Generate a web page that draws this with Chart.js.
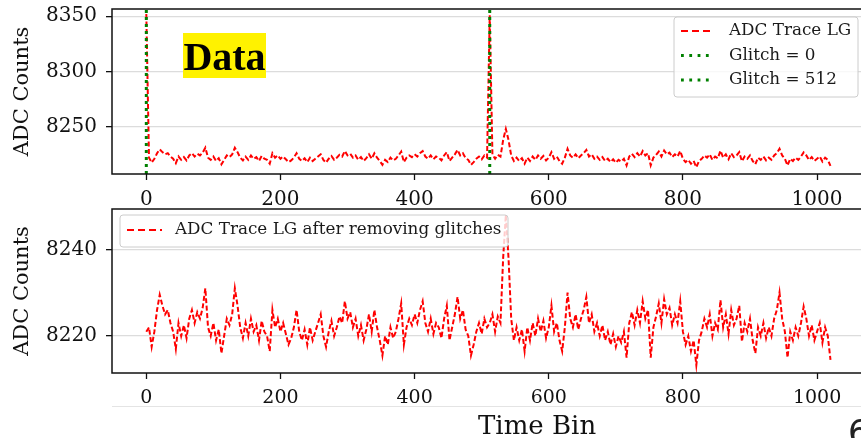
<!DOCTYPE html>
<html>
<head>
<meta charset="utf-8">
<script src="https://cdn.jsdelivr.net/npm/chart.js@4.4.1/dist/chart.umd.min.js"></script>
<style>
    html, body { margin: 0; padding: 0; background: #fff; }
    body { width: 861px; height: 438px; overflow: hidden; position: relative; font-family: "DejaVu Serif", serif; }
    .panel { position: absolute; left: 0; }
    #dataTag {
        position: absolute; left: 183px; top: 33px; width: 83px; height: 45px;
        background: #fff200; color: #000; font: bold 40px "Liberation Serif", serif;
        line-height: 47px; text-align: center;
    }
    #xTitle { position: absolute; left: 478px; top: 410px; font: 26px "DejaVu Serif", serif; color: #111; line-height: 30px; }
    #pageNo { position: absolute; left: 848px; top: 412px; font: 34px "DejaVu Sans", sans-serif; color: #222; }
    #slideLine { position: absolute; left: 112px; top: 406px; width: 760px; height: 1px; background: #e4e4e4; }
</style>
</head>
<body>
<div class="panel" style="top:0"><canvas id="rawTrace" width="880" height="214"></canvas></div>
<div class="panel" style="top:200px"><canvas id="cleanTrace" width="880" height="214"></canvas></div>
<div id="slideLine"></div>
<div id="dataTag">Data</div>
<div id="xTitle">Time Bin</div>
<div id="pageNo">6</div>

<script>
// ADC trace (low gain), one value every 4 time bins
const binStep = 4;
const adcClean = [
    8221, 8222, 8217.5, 8221, 8226, 8229.5, 8227, 8225, 8226, 8223, 8221, 8217, 8223, 8220, 8222.5, 8219.5,
    8224, 8226, 8223, 8225.5, 8224, 8226.5, 8231, 8222, 8220, 8223, 8219, 8221.5, 8216, 8220, 8224, 8222.5,
    8225, 8231, 8227, 8222, 8219.5, 8223, 8220, 8224, 8221, 8222.5, 8219, 8223.5, 8221, 8220, 8216.5, 8226,
    8222, 8224, 8221, 8223, 8220.5, 8218, 8219.5, 8222, 8226, 8221, 8219, 8221.5, 8218, 8222, 8219, 8221,
    8223, 8225, 8220, 8217.5, 8221, 8223.5, 8220, 8222, 8224.5, 8223, 8228, 8224, 8225.5, 8222, 8224, 8220,
    8222.5, 8219, 8221.5, 8225, 8221, 8226, 8222, 8219, 8215.5, 8220, 8218, 8222, 8219.5, 8221, 8224, 8227.5,
    8218, 8222, 8224, 8222.5, 8225, 8223, 8226, 8228, 8223, 8221, 8224, 8220.5, 8223, 8222, 8219.5, 8224,
    8227, 8219, 8222, 8225, 8229, 8224, 8226, 8221.5, 8220, 8215.5, 8218, 8221, 8223, 8220.5, 8224, 8222,
    8223, 8225, 8221, 8224.5, 8223, 8238, 8248, 8238, 8224, 8219, 8222, 8219, 8221.5, 8216.5, 8222, 8219,
    8223, 8220, 8224, 8221, 8223.5, 8219.5, 8222, 8227, 8221, 8223, 8219, 8216.5, 8222, 8230, 8224, 8222,
    8225, 8221.5, 8224, 8226, 8229, 8223, 8225, 8221, 8223, 8220, 8222.5, 8219, 8221, 8218, 8220.5, 8217.5,
    8220, 8218.5, 8221, 8215, 8223, 8225.5, 8222.5, 8226, 8223, 8228, 8224, 8226, 8215, 8222, 8224.5, 8227.5,
    8223, 8228.5, 8225, 8226.5, 8222.5, 8225, 8223, 8228, 8221, 8218, 8220, 8216.5, 8219, 8213.3, 8219, 8221,
    8224, 8222, 8225, 8220, 8223, 8221.5, 8228.3, 8222, 8225, 8220.5, 8226, 8222.5, 8224, 8227, 8218.7, 8223,
    8221, 8224, 8219, 8216, 8222, 8220, 8223, 8219.5, 8222, 8220, 8224, 8226, 8230, 8224, 8221, 8215,
    8221, 8219, 8222, 8220, 8223, 8226.8, 8224, 8220, 8222.5, 8219, 8221, 8223, 8218.5, 8222, 8220, 8214.5
];
// glitch positions and the raw values there
const glitchBins = [0, 512];
const glitchValues = [8352, 8351];

const xTicks = [0, 200, 400, 600, 800, 1000];
const yTicksTop = [8250, 8300, 8350];
const yTicksBottom = [8220, 8240];

const xRange = [-51.15, 1074.15];
const yRangeTop = [8207.2, 8356.6];
const yRangeBottom = [8211.46, 8249.3];

const RED = '#ff0000';
const GREEN = '#008000';
const INK = '#111111';
const FONT = '"DejaVu Serif", serif';

const cleanPoints = adcClean.map((v, i) => ({ x: i * binStep, y: v }));
const rawPoints = cleanPoints.map(p => {
    const g = glitchBins.indexOf(p.x);
    return g >= 0 ? { x: p.x, y: glitchValues[g] } : p;
});

// frame + legend drawn on top of the data
const overlay = {
    id: 'overlay',
    afterDatasetsDraw(chart, args, opts) {
        const ctx = chart.ctx;
        const a = chart.chartArea;
        ctx.save();
        ctx.strokeStyle = INK;
        ctx.lineWidth = 1.5;
        ctx.setLineDash([]);
        ctx.strokeRect(a.left, a.top, a.right - a.left, a.bottom - a.top);

        const b = opts.box;
        ctx.fillStyle = 'rgba(255,255,255,0.8)';
        ctx.strokeStyle = '#cccccc';
        ctx.lineWidth = 1;
        ctx.beginPath();
        ctx.roundRect(b.x, b.y, b.w, b.h, 3);
        ctx.fill();
        ctx.stroke();

        ctx.font = '16.8px ' + FONT;
        ctx.textBaseline = 'middle';
        ctx.fillStyle = '#1a1a1a';
        opts.items.forEach((it, i) => {
            const y = opts.rowY + i * opts.rowGap;
            ctx.strokeStyle = it.color;
            ctx.lineWidth = it.width;
            ctx.setLineDash(it.dash);
            ctx.beginPath();
            ctx.moveTo(opts.lineX[0], y);
            ctx.lineTo(opts.lineX[1], y);
            ctx.stroke();
            ctx.setLineDash([]);
            ctx.fillText(it.label, opts.textX, y);
        });
        ctx.restore();
    }
};

function makeScales(yRange, yTicks, xHeight, tickFont, tickPad) {
    return {
        x: {
            type: 'linear', min: xRange[0], max: xRange[1],
            afterBuildTicks: s => { s.ticks = xTicks.map(v => ({ value: v })); },
            afterFit: s => { s.height = xHeight; s.paddingLeft = 0; s.paddingRight = 0; },
            grid: { drawOnChartArea: false, tickLength: 6, tickColor: INK, tickWidth: 1.3 },
            border: { display: false },
            ticks: { color: INK, font: { family: FONT, size: tickFont }, padding: tickPad, maxRotation: 0, callback: v => String(v) }
        },
        y: {
            min: yRange[0], max: yRange[1],
            afterBuildTicks: s => { s.ticks = yTicks.map(v => ({ value: v })); },
            afterFit: s => { s.width = 112; s.paddingTop = 0; s.paddingBottom = 0; },
            grid: { color: '#dcdcdc', lineWidth: 1.3, tickLength: 6, tickColor: INK, tickWidth: 1.3 },
            border: { display: false },
            ticks: { color: INK, font: { family: FONT, size: 20 }, padding: 9, callback: v => String(v) },
            title: { display: true, text: 'ADC Counts', color: INK, font: { family: FONT, size: 21 }, padding: { top: 10, bottom: 0 } }
        }
    };
}

const common = {
    responsive: false,
    animation: false,
    events: [],
    elements: { point: { radius: 0 }, line: { tension: 0, borderCapStyle: 'butt' } }
};

new Chart(document.getElementById('rawTrace'), {
    type: 'line',
    data: {
        datasets: [
            { label: 'Glitch = 0', data: [{ x: 0, y: yRangeTop[0] }, { x: 0, y: yRangeTop[1] }], borderColor: GREEN, borderWidth: 3, borderDash: [3, 4], order: 1 },
            { label: 'Glitch = 512', data: [{ x: 512, y: yRangeTop[0] }, { x: 512, y: yRangeTop[1] }], borderColor: GREEN, borderWidth: 3, borderDash: [3, 4], order: 1 },
            { label: 'ADC Trace LG', data: rawPoints, borderColor: RED, borderWidth: 2, borderDash: [5, 2.5], order: 2 }
        ]
    },
    options: Object.assign({}, common, {
        layout: { padding: { left: 0, top: 9, right: 13.2, bottom: 0 } },
        scales: makeScales(yRangeTop, yTicksTop, 40, 20, 8),
        plugins: {
            legend: { display: false },
            tooltip: { enabled: false },
            overlay: {
                box: { x: 674, y: 17, w: 184, h: 80 },
                lineX: [681, 712], textX: 729, rowY: 31, rowGap: 24.5,
                items: [
                    { label: 'ADC Trace LG', color: RED, width: 2, dash: [7, 4] },
                    { label: 'Glitch = 0', color: GREEN, width: 2.8, dash: [2.8, 5.5] },
                    { label: 'Glitch = 512', color: GREEN, width: 2.8, dash: [2.8, 5.5] }
                ]
            }
        }
    }),
    plugins: [overlay]
});

new Chart(document.getElementById('cleanTrace'), {
    type: 'line',
    data: {
        datasets: [
            { label: 'ADC Trace LG after removing glitches', data: cleanPoints, borderColor: RED, borderWidth: 2, borderDash: [5, 2.5] }
        ]
    },
    options: Object.assign({}, common, {
        layout: { padding: { left: 0, top: 9, right: 13.2, bottom: 0 } },
        scales: makeScales(yRangeBottom, yTicksBottom, 41, 19, 8),
        plugins: {
            legend: { display: false },
            tooltip: { enabled: false },
            overlay: {
                box: { x: 120, y: 15, w: 388, h: 32 },
                lineX: [127, 162], textX: 175, rowY: 30, rowGap: 0,
                items: [
                    { label: 'ADC Trace LG after removing glitches', color: RED, width: 2, dash: [7, 4] }
                ]
            }
        }
    }),
    plugins: [overlay]
});
</script>
</body>
</html>
